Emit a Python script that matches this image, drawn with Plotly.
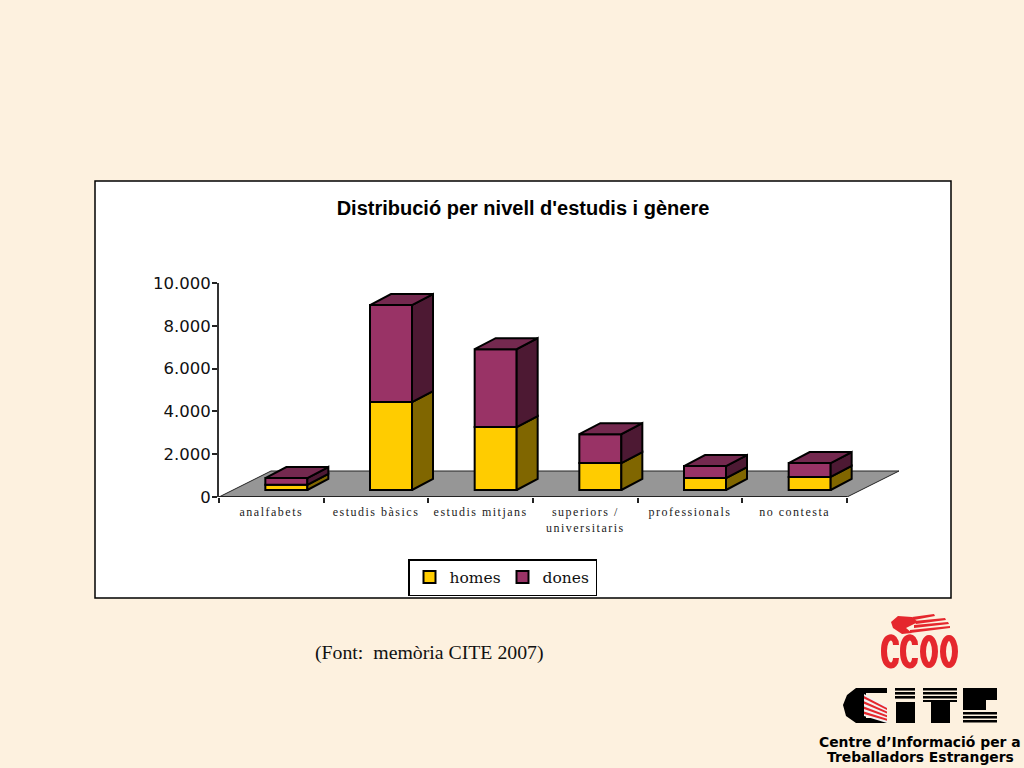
import plotly.graph_objects as go

categories = ["analfabets", "estudis bàsics", "estudis mitjans", "superiors /<br>universitaris", "professionals", "no contesta"]
homes = [240, 4110, 2940, 1260, 560, 610]
dones = [320, 4530, 3640, 1350, 560, 650]
y_ticks = [0, 2000, 4000, 6000, 8000, 10000]
y_labels = ["0", "2.000", "4.000", "6.000", "8.000", "10.000"]

W, H = 1024, 768
BG = "#FDF1DF"
YEL, YEL_S = "#FFCC00", "#806600"
MAG, MAG_S, MAG_T = "#993366", "#4D1933", "#74294F"
FLOOR = "#969696"
RED = "#E5272D"

# pseudo-3D geometry expressed in axis units
cat_px = 628 / 6
unit_px = 214 / 10000
bar_w = 42 / cat_px
bar_dx = 15 / cat_px
bar_dy = 7 / unit_px
dep_x = 21 / cat_px
dep_y = 11 / unit_px
floor_x = 52 / cat_px
floor_y = 26 / unit_px
n = len(categories)
centers = [i + 0.5 + bar_dx for i in range(n)]


def px_x(x):
    return x / W


def px_y(y):
    return 1 - y / H


def paper_path(points, close=True):
    s = "M" + " L".join(f"{px_x(x):.5f} {px_y(y):.5f}" for x, y in points)
    return s + (" Z" if close else "")


def poly(points, fill, line=None, lw=0):
    return dict(type="path", xref="paper", yref="paper", path=paper_path(points), fillcolor=fill,
                line=dict(color=line or fill, width=lw), layer="above")


def rect(x0, y0, x1, y1, fill):
    return poly([(x0, y0), (x1, y0), (x1, y1), (x0, y1)], fill)


def faces(lower, upper):
    xs, ys = [], []
    for c, lo, hi in zip(centers, lower, upper):
        r = c + bar_w / 2
        xs += [r, r + dep_x, r + dep_x, r, r, None]
        ys += [lo, lo + dep_y, hi + dep_y, hi, lo, None]
    return xs, ys


def tops(upper):
    xs, ys = [], []
    for c, hi in zip(centers, upper):
        l, r = c - bar_w / 2, c + bar_w / 2
        xs += [l, r, r + dep_x, l + dep_x, l, None]
        ys += [hi, hi, hi + dep_y, hi + dep_y, hi, None]
    return xs, ys


base0 = [bar_dy] * n
top_h = [bar_dy + v for v in homes]
top_d = [a + b for a, b in zip(top_h, dones)]

fig = go.Figure()
edge = dict(color="#000000", width=2)
fig.add_bar(name="homes", x=centers, y=homes, base=base0, width=bar_w, marker=dict(color=YEL, line=edge))
fig.add_bar(name="dones", x=centers, y=dones, base=top_h, width=bar_w, marker=dict(color=MAG, line=edge))
for (xs, ys), col in [(faces(base0, top_h), YEL_S), (faces(top_h, top_d), MAG_S), (tops(top_d), MAG_T)]:
    fig.add_scatter(x=xs, y=ys, mode="lines", fill="toself", fillcolor=col, line=edge, showlegend=False, hoverinfo="skip")
# front axis line, on the shorter category axis
fig.add_scatter(x=[0, n], y=[0, 0], xaxis="x2", mode="lines", line=dict(color="#222222", width=2),
                showlegend=False, hoverinfo="skip", cliponaxis=False)

shapes = [
    dict(type="rect", xref="paper", yref="paper", x0=px_x(95), x1=px_x(951), y0=px_y(598), y1=px_y(181),
         fillcolor="white", line=dict(color="#000000", width=1.5), layer="below"),
    dict(type="path", xref="x", yref="y", layer="below", fillcolor=FLOOR, line=dict(color="#222222", width=1),
         path=f"M0 0 L{n} 0 L{n + floor_x} {floor_y} L{floor_x} {floor_y} Z"),
]

# CCOO logo
for cx in (929, 949):
    shapes.append(dict(type="circle", xref="paper", yref="paper", x0=px_x(cx - 6), x1=px_x(cx + 6),
                       y0=px_y(665), y1=px_y(638), fillcolor="rgba(0,0,0,0)", line=dict(color=RED, width=6), layer="above"))
for cx in (890, 909):
    shapes.append(dict(type="path", xref="paper", yref="paper", layer="above", fillcolor="rgba(0,0,0,0)",
                       line=dict(color=RED, width=6),
                       path=f"M{px_x(cx + 6)} {px_y(645)} C{px_x(cx + 6)} {px_y(634)} {px_x(cx - 6)} {px_y(634)} {px_x(cx - 6)} {px_y(651)}"
                            f" C{px_x(cx - 6)} {px_y(669)} {px_x(cx + 6)} {px_y(669)} {px_x(cx + 6)} {px_y(658)}"))
shapes += [
    poly([(891, 622), (898, 616), (912, 617), (918, 622), (906, 628), (912, 633), (902, 634), (893, 628)], RED),
    poly([(912, 617), (934, 614), (935, 616), (914, 620)], RED),
    poly([(914, 621), (945, 618), (946, 620), (916, 624)], RED),
    poly([(914, 625), (948, 622), (949, 624), (914, 628)], RED),
    poly([(910, 630), (950, 626), (950, 628), (910, 633)], RED),
]

# CITE logo
shapes += [
    poly([(856, 688), (887, 688), (887, 693), (866, 693), (866, 718), (887, 718), (887, 723), (856, 723),
          (846, 716), (843, 705), (847, 695)], "#000000"),
    poly([(864, 694), (887, 706), (887, 723), (864, 716)], "#F2F2F2"),
]
for k in range(4):
    shapes.append(poly([(864, 696 + k * 5.2), (887, 708 + k * 3.6), (887, 710 + k * 3.6), (864, 698.5 + k * 5.2)], RED))
for y in (688, 692, 696):
    shapes.append(rect(895, y, 915, y + 2.6, "#000000"))
    shapes.append(rect(923, y, 957, y + 2.6, "#000000"))
shapes += [
    rect(896, 702, 915, 723, "#000000"),
    rect(923, 700, 957, 702, "#000000"),
    rect(931, 702, 950, 723, "#000000"),
    rect(963, 688, 997, 700, "#000000"),
    rect(963, 700, 986, 710, "#000000"),
]
for y in (712, 716, 720):
    shapes.append(rect(963, y, 997, y + 2.6, "#000000"))

annotations = [
    dict(text="(Font:  memòria CITE 2007)", x=px_x(313), y=px_y(652), xref="paper", yref="paper",
         xanchor="left", yanchor="middle", showarrow=False,
         font=dict(family="Liberation Serif", size=19.8, color="#111111")),
    dict(text="Centre d’Informació per a", x=px_x(920), y=px_y(742), xref="paper", yref="paper",
         xanchor="center", yanchor="middle", showarrow=False,
         font=dict(family="DejaVu Sans", size=13.9, weight="bold", color="#000000")),
    dict(text="Treballadors Estrangers", x=px_x(920), y=px_y(756.5), xref="paper", yref="paper",
         xanchor="center", yanchor="middle", showarrow=False,
         font=dict(family="DejaVu Sans", size=13.9, weight="bold", color="#000000")),
]

fig.update_layout(
    width=W, height=H, autosize=False,
    margin=dict(l=0, r=0, t=0, b=0, autoexpand=False),
    paper_bgcolor=BG, plot_bgcolor="rgba(0,0,0,0)",
    barmode="overlay",
    title=dict(text="<b>Distribució per nivell d'estudis i gènere</b>", x=523 / W, xanchor="center",
               y=px_y(208), yanchor="middle", font=dict(family="Liberation Sans", size=20, color="#000000")),
    xaxis=dict(domain=[px_x(219), px_x(899)], range=[0, 680 / cat_px], tickmode="array", automargin=False,
               tickvals=list(range(n + 1)), ticktext=[""] * (n + 1), ticks="outside", ticklen=5,
               tickcolor="#222222", tickwidth=1.5, showgrid=False, zeroline=False, showline=False, anchor="y"),
    xaxis2=dict(domain=[px_x(219), px_x(847)], range=[0, n], tickmode="array", automargin=False,
                tickvals=[i + 0.5 for i in range(n)], ticktext=categories, ticks="", ticklabelstandoff=6,
                tickfont=dict(family="Liberation Serif", size=12, color="#222222"), tickangle=0,
                showgrid=False, zeroline=False, showline=False, anchor="y"),
    yaxis=dict(domain=[px_y(497), px_y(283)], range=[0, 10000], tickmode="array", tickvals=y_ticks, automargin=False,
               ticktext=y_labels, ticks="outside", ticklen=5, tickcolor="#222222", tickwidth=1.5,
               ticklabelstandoff=-2,
               tickfont=dict(family="DejaVu Sans", size=16.5, color="#111111"),
               showgrid=False, zeroline=False, showline=True, linecolor="#333333", linewidth=2),
    legend=dict(orientation="h", x=px_x(408), y=px_y(559), xanchor="left", yanchor="top",
                bgcolor="white", bordercolor="#000000", borderwidth=1.5, entrywidth=48, entrywidthmode="pixels",
                font=dict(family="DejaVu Serif", size=15.5, color="#111111"), itemsizing="trace"),
    shapes=shapes, annotations=annotations,
)

post = """
document.body.style.margin = '0';
document.body.style.background = '#FDF1DF';
document.documentElement.style.overflow = 'hidden';
function spaceLabels() {
  document.querySelectorAll('.x2tick text').forEach(function (t) { t.style.letterSpacing = '1.5px'; });
}
spaceLabels();
setTimeout(spaceLabels, 50);
"""
fig.write_html("out.html", post_script=post, config={"displayModeBar": False})
